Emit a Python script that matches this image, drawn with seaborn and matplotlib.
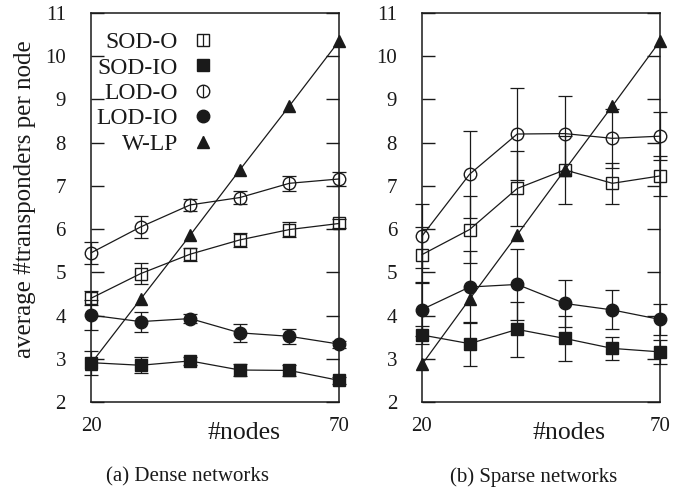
import numpy as np
import pandas as pd
import matplotlib
matplotlib.use("Agg")
import matplotlib.pyplot as plt
import seaborn as sns
from matplotlib.lines import Line2D
from matplotlib.legend_handler import HandlerTuple

# ---------------- data ----------------
nodes = [20, 30, 40, 50, 60, 70]
series_names = ["SOD-O", "SOD-IO", "LOD-O", "LOD-IO", "W-LP"]

dense_sod_o = [4.40, 4.97, 5.42, 5.75, 5.99, 6.13]
dense_sod_o_err = [0.16, 0.24, 0.15, 0.17, 0.17, 0.10]
dense_sod_io = [2.91, 2.85, 2.95, 2.74, 2.73, 2.50]
dense_sod_io_err = [0.28, 0.19, 0.10, 0.15, 0.12, 0.08]
dense_lod_o = [5.45, 6.05, 6.56, 6.73, 7.06, 7.16]
dense_lod_o_err = [0.26, 0.25, 0.13, 0.16, 0.17, 0.16]
dense_lod_io = [4.01, 3.86, 3.93, 3.60, 3.52, 3.34]
dense_lod_io_err = [0.35, 0.23, 0.10, 0.21, 0.17, 0.08]
dense_wlp = [2.89, 4.38, 5.86, 7.37, 8.85, 10.35]
dense_wlp_err = [0, 0, 0, 0, 0, 0]

sparse_sod_o = [5.41, 5.99, 6.94, 7.37, 7.06, 7.23]
sparse_sod_o_err = [0.64, 0.77, 0.87, 0.78, 0.48, 0.47]
sparse_sod_io = [3.55, 3.35, 3.68, 3.47, 3.24, 3.16]
sparse_sod_io_err = [0.20, 0.51, 0.63, 0.51, 0.27, 0.27]
sparse_lod_o = [5.84, 7.27, 8.20, 8.21, 8.10, 8.15]
sparse_lod_o_err = [0.74, 1.01, 1.07, 0.86, 0.68, 0.55]
sparse_lod_io = [4.14, 4.66, 4.72, 4.28, 4.13, 3.91]
sparse_lod_io_err = [0.62, 0.84, 0.83, 0.54, 0.45, 0.35]
sparse_wlp = [2.87, 4.38, 5.87, 7.37, 8.85, 10.35]
sparse_wlp_err = [0, 0, 0, 0, 0, 0]

panel_captions = ["(a) Dense networks", "(b) Sparse networks"]
x_label = "#nodes"
y_label = "average #transponders per node"
x_ticks = [20, 70]
y_ticks = [2, 3, 4, 5, 6, 7, 8, 9, 10, 11]

panels = {
    "dense": [(dense_sod_o, dense_sod_o_err), (dense_sod_io, dense_sod_io_err),
              (dense_lod_o, dense_lod_o_err), (dense_lod_io, dense_lod_io_err),
              (dense_wlp, dense_wlp_err)],
    "sparse": [(sparse_sod_o, sparse_sod_o_err), (sparse_sod_io, sparse_sod_io_err),
               (sparse_lod_o, sparse_lod_o_err), (sparse_lod_io, sparse_lod_io_err),
               (sparse_wlp, sparse_wlp_err)],
}
rows = []
for pname, lst in panels.items():
    for sname, (vals, errs) in zip(series_names, lst):
        for n, v, e in zip(nodes, vals, errs):
            rows.append(dict(panel=pname, series=sname, nodes=n, value=v, err=e))
df = pd.DataFrame(rows)

# ---------------- style ----------------
sns.set_theme(style="white", rc={"axes.edgecolor": "k", "text.color": "k",
                                 "axes.labelcolor": "k", "xtick.color": "k",
                                 "ytick.color": "k"})
plt.rcParams["font.family"] = ["Liberation Serif", "DejaVu Serif"]

marker_styles = {
    "SOD-O": dict(marker="s", markerfacecolor="none", markersize=8.6),
    "SOD-IO": dict(marker="s", markerfacecolor="k", markersize=8.6),
    "LOD-O": dict(marker="o", markerfacecolor="none", markersize=9.0),
    "LOD-IO": dict(marker="o", markerfacecolor="k", markersize=9.0),
    "W-LP": dict(marker="^", markerfacecolor="k", markersize=8.5),
}

fig = plt.figure(figsize=(6.94, 4.91), dpi=100)
ax1 = fig.add_axes([91 / 694, 89 / 491, 248 / 694, 389 / 491])
ax2 = fig.add_axes([422 / 694, 89 / 491, 238 / 694, 389 / 491])

for ax, pname in zip((ax1, ax2), ("dense", "sparse")):
    pdf = df[df.panel == pname]
    for sname in series_names:
        sub = pdf[pdf.series == sname]
        if sname != "W-LP":
            eb = ax.errorbar(sub.nodes, sub.value, yerr=sub.err, fmt="none",
                             ecolor="k", elinewidth=0.9, capsize=5, capthick=0.9)
            for art in eb.lines[1] + eb.lines[2]:
                art.set_clip_on(False)
        sns.lineplot(data=sub, x="nodes", y="value", ax=ax, color="k",
                     linewidth=0.9, markeredgecolor="k", markeredgewidth=1.0,
                     errorbar=None, legend=False, clip_on=False,
                     **marker_styles[sname])
    ax.set_xlim(20, 70)
    ax.set_ylim(2, 11)
    ax.set_xticks(x_ticks)
    ax.set_yticks(y_ticks)
    ax.tick_params(axis="y", which="both", direction="in", length=9.5, width=1,
                   left=True, right=True, labelsize=15, pad=18, colors="k")
    ax.tick_params(axis="x", length=0, labelsize=15, pad=11, colors="k")
    for s in ax.spines.values():
        s.set_visible(True)
        s.set_linewidth(1.1)
        s.set_color("k")
    ax.set_ylabel("")
    ax.set_xlabel(x_label, fontsize=18.5)
    ax.xaxis.set_label_coords(0.617, -0.052)

fig.text(25 / 694, 1 - 199 / 491, y_label, rotation=90, ha="center", va="center",
         fontsize=18)
fig.text(188 / 694, 1 - 477 / 491, panel_captions[0], ha="center", va="center",
         fontsize=15)
fig.text(534 / 694, 1 - 477 / 491, panel_captions[1], ha="center", va="center",
         fontsize=15)

# legend
handles = []
for sname in series_names:
    st = marker_styles[sname]
    vline = Line2D([], [], ls="none", marker="|", markersize=st["markersize"],
                   color="k", markeredgewidth=0.9)
    mk = Line2D([], [], ls="none", color="k", markeredgecolor="k",
                markeredgewidth=1.0, **st)
    handles.append((vline, mk))
leg = ax1.legend(handles, series_names, handler_map={tuple: HandlerTuple(ndivide=1)},
                 loc="upper right", bbox_to_anchor=(0.498, 0.952), frameon=False,
                 markerfirst=False, fontsize=17, handlelength=1.0,
                 handletextpad=0.55, labelspacing=0.165, borderpad=0,
                 borderaxespad=0)
for col in leg._legend_handle_box.get_children():
    col.align = "right"

fig.savefig("out.png", dpi=100)
